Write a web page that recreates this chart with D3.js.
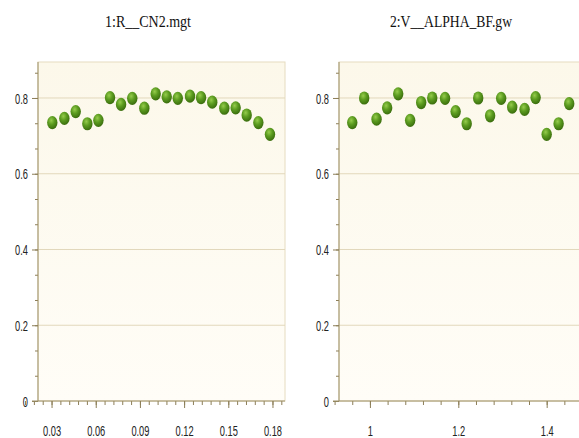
<!DOCTYPE html>
<html>
<head>
<meta charset="utf-8">
<script src="https://cdn.jsdelivr.net/npm/d3@7"></script>
<style>
  body { margin: 0; background: #fff; }
  svg { display: block; }
  .tick text { font-family: "Liberation Sans", Arial, sans-serif; font-size: 15px; fill: #222; }
</style>
</head>
<body>
<div id="chart"></div>
<script>
// Dados (dois painéis de parâmetros)
const titles = ["1:R__CN2.mgt", "2:V__ALPHA_BF.gw"];

const xLeft = [0.0305, 0.0387, 0.0464, 0.0543, 0.0618, 0.0697, 0.0772, 0.0848, 0.0930, 0.1007,
               0.1082, 0.1157, 0.1240, 0.1315, 0.1391, 0.1473, 0.1550, 0.1625, 0.1704, 0.1783];
const yLeft = [0.735, 0.746, 0.764, 0.732, 0.741, 0.801, 0.783, 0.799, 0.773, 0.811,
               0.803, 0.799, 0.805, 0.801, 0.789, 0.773, 0.774, 0.755, 0.735, 0.704];

const xRight = [0.960, 0.987, 1.015, 1.039, 1.064, 1.091, 1.116, 1.141, 1.170, 1.194,
                1.219, 1.245, 1.272, 1.297, 1.322, 1.350, 1.375, 1.400, 1.427, 1.451];
const yRight = [0.735, 0.800, 0.744, 0.774, 0.811, 0.741, 0.788, 0.800, 0.799, 0.764,
                0.732, 0.800, 0.753, 0.799, 0.776, 0.770, 0.801, 0.704, 0.732, 0.785];

const yTicks = [0, 0.2, 0.4, 0.6, 0.8];
const xTicksLeft = [0.03, 0.06, 0.09, 0.12, 0.15, 0.18];
const xTicksRight = [1, 1.2, 1.4];

const width = 579, height = 438;
const squeeze = 0.62; // as fontes do original são bem estreitas

const svg = d3.select("#chart").append("svg")
  .attr("width", width)
  .attr("height", height);

// gradiente das bolinhas verdes
const defs = svg.append("defs");
const grad = defs.append("radialGradient")
  .attr("id", "dot")
  .attr("cx", "40%").attr("cy", "33%").attr("r", "70%");
grad.append("stop").attr("offset", "0%").attr("stop-color", "#96cc4c");
grad.append("stop").attr("offset", "45%").attr("stop-color", "#5c9c20");
grad.append("stop").attr("offset", "100%").attr("stop-color", "#386a0c");

const bg = defs.append("linearGradient")
  .attr("id", "bg")
  .attr("x1", 0).attr("y1", 0).attr("x2", 0).attr("y2", 1);
bg.append("stop").attr("offset", "0%").attr("stop-color", "#fcf8ea");
bg.append("stop").attr("offset", "100%").attr("stop-color", "#fffdf7");

const y = d3.scaleLinear().domain([0, 0.895]).range([401, 62]);

const panels = [
  { title: titles[0], xs: xLeft, ys: yLeft, ticks: xTicksLeft, domain: [0.0208, 0.1885], range: [38, 285],
    minor: d3.range(0.012, 0.189, 0.006), fmt: d3.format(".2f"), titleX: 148, titleW: 86 },
  { title: titles[1], xs: xRight, ys: yRight, ticks: xTicksRight, domain: [0.93, 1.489], range: [339, 586],
    minor: d3.range(0.92, 1.49, 0.04), fmt: d => d3.format("")(d), titleX: 451, titleW: 122 }
];

const yMinor = d3.range(0, 0.9, 0.2 / 3);

panels.forEach(p => {
  const x = d3.scaleLinear().domain(p.domain).range(p.range);
  const g = svg.append("g");

  // fundo do gráfico
  g.append("rect")
    .attr("x", p.range[0])
    .attr("y", y(0.895))
    .attr("width", p.range[1] - p.range[0])
    .attr("height", y(0) - y(0.895))
    .attr("fill", "url(#bg)")
    .attr("stroke", "#e6dcc0")
    .attr("stroke-width", 1);

  // linhas de grade
  g.selectAll(".grid")
    .data(yTicks.filter(d => d > 0))
    .join("line")
    .attr("x1", p.range[0]).attr("x2", p.range[1])
    .attr("y1", d => y(d)).attr("y2", d => y(d))
    .attr("stroke", "#e2d8bc")
    .attr("stroke-width", 1);

  // eixo y menor
  g.append("g")
    .attr("transform", `translate(${p.range[0]},0)`)
    .call(d3.axisLeft(y).tickValues(yMinor).tickSize(3).tickFormat(""))
    .call(a => a.select(".domain").remove())
    .selectAll("line").attr("stroke", "#8c7e58");

  // eixo y
  g.append("g")
    .attr("transform", `translate(${p.range[0]},0)`)
    .call(d3.axisLeft(y).tickValues(yTicks).tickSize(6).tickPadding(4).tickFormat(d => d === 0 ? "0" : d3.format(".1f")(d)))
    .call(a => a.select(".domain").attr("stroke", "#9c8f66").attr("d", `M0,${y(0)}V${y(0.895)}`))
    .call(a => a.selectAll(".tick line").attr("stroke", "#8c7e58"))
    .call(a => a.selectAll(".tick text")
      .attr("x", -10 / squeeze)
      .attr("dy", "0.35em")
      .attr("transform", `scale(${squeeze},1)`));

  // eixo x menor
  g.append("g")
    .attr("transform", `translate(0,${y(0)})`)
    .call(d3.axisBottom(x).tickValues(p.minor).tickSize(4).tickFormat(""))
    .call(a => a.select(".domain").remove())
    .selectAll("line").attr("stroke", "#8c7e58");

  // eixo x
  g.append("g")
    .attr("transform", `translate(0,${y(0)})`)
    .call(d3.axisBottom(x).tickValues(p.ticks).tickSize(7).tickPadding(17).tickFormat(p.fmt))
    .call(a => a.select(".domain").attr("stroke", "#9c8f66").attr("d", `M${p.range[0] - 6},0H${p.range[1]}`))
    .call(a => a.selectAll(".tick line").attr("stroke", "#8c7e58"))
    .call(a => a.selectAll(".tick text").attr("transform", `scale(${squeeze},1)`));

  // pontos
  g.selectAll(".pt")
    .data(p.xs.map((v, i) => ({ x: v, y: p.ys[i] })))
    .join("ellipse")
    .attr("cx", d => x(d.x))
    .attr("cy", d => y(d.y))
    .attr("rx", 5.2)
    .attr("ry", 6.6)
    .attr("fill", "url(#dot)");

  // título
  svg.append("text")
    .attr("x", p.titleX)
    .attr("y", 27)
    .attr("text-anchor", "middle")
    .attr("textLength", p.titleW)
    .attr("lengthAdjust", "spacingAndGlyphs")
    .style("font-family", "Liberation Serif, serif")
    .style("font-size", "16px")
    .style("fill", "#111")
    .text(p.title);
});
</script>
</body>
</html>
